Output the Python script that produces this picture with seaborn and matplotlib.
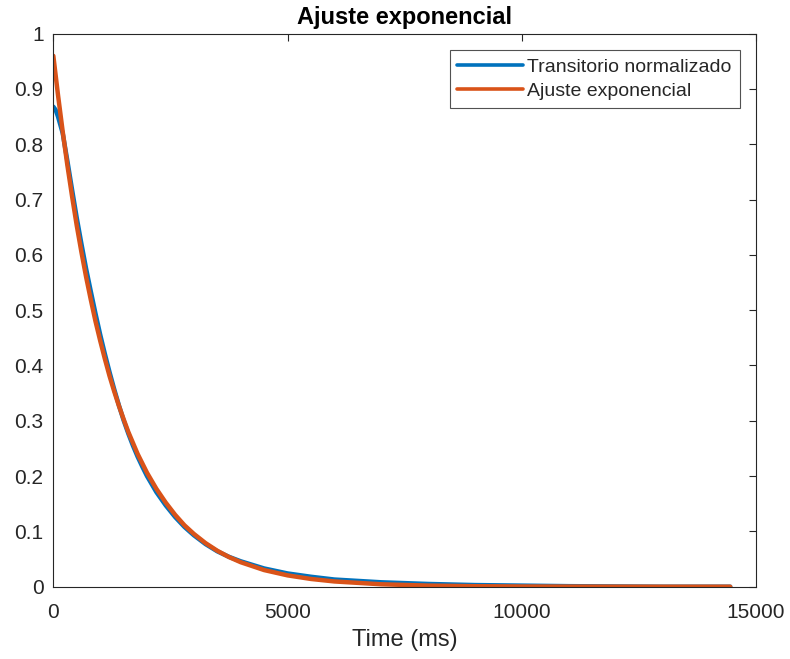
import numpy as np
import pandas as pd
import matplotlib
matplotlib.use("Agg")
import matplotlib.pyplot as plt
import seaborn as sns

# Data
time_blue = [0, 50, 100, 200, 300, 400, 500, 600, 700, 800, 900, 1000, 1100,
             1200, 1300, 1400, 1500, 1600, 1700, 1800, 1900, 2000, 2200, 2400,
             2600, 2800, 3000, 3250, 3500, 3750, 4000, 4500, 5000, 5500, 6000,
             7000, 8000, 9000, 10000, 11000, 12000, 13000, 14450]
transitorio = [0.868, 0.862, 0.850, 0.820, 0.770, 0.718, 0.667, 0.620, 0.575,
               0.534, 0.494, 0.456, 0.421, 0.388, 0.357, 0.328, 0.301, 0.277,
               0.255, 0.235, 0.217, 0.200, 0.171, 0.147, 0.126, 0.108, 0.093,
               0.077, 0.064, 0.054, 0.046, 0.033, 0.024, 0.018, 0.013, 0.008,
               0.005, 0.003, 0.002, 0.001, 0.0005, 0.0, 0.0]

time_orange = [0, 100, 200, 300, 400, 500, 600, 700, 800, 900, 1000, 1100,
               1200, 1300, 1400, 1500, 1600, 1700, 1800, 1900, 2000, 2200,
               2400, 2600, 2800, 3000, 3250, 3500, 3750, 4000, 4500, 5000,
               5500, 6000, 7000, 8000, 9000, 10000, 11000, 12000, 13000, 14450]
ajuste = [0.960, 0.889, 0.823, 0.762, 0.706, 0.653, 0.605, 0.560, 0.519,
          0.480, 0.445, 0.412, 0.381, 0.353, 0.327, 0.303, 0.280, 0.260,
          0.240, 0.223, 0.206, 0.177, 0.152, 0.130, 0.111, 0.0955, 0.0788,
          0.0650, 0.0536, 0.0443, 0.0301, 0.0205, 0.0140, 0.0095, 0.0044,
          0.0020, 0.0009, 0.0004, 0.0002, 0.0001, 0.0, 0.0]

series_names = ["Transitorio normalizado", "Ajuste exponencial"]
xticks = [0, 5000, 10000, 15000]
yticks = [0, 0.1, 0.2, 0.3, 0.4, 0.5, 0.6, 0.7, 0.8, 0.9, 1]
ytick_labels = ["0", "0.1", "0.2", "0.3", "0.4", "0.5", "0.6", "0.7", "0.8", "0.9", "1"]

df = pd.concat([
    pd.DataFrame({"t": time_blue, "v": transitorio, "serie": series_names[0]}),
    pd.DataFrame({"t": time_orange, "v": ajuste, "serie": series_names[1]}),
], ignore_index=True)

sns.set_style("white")
plt.rcParams["font.family"] = ["Liberation Sans", "DejaVu Sans"]

fig = plt.figure(figsize=(7.9, 6.59), dpi=100)
ax = fig.add_axes([0.0675, 0.1097, 0.8895, 0.8392])

palette = {series_names[0]: "#0072BD", series_names[1]: "#D95319"}
sns.lineplot(data=df, x="t", y="v", hue="serie", palette=palette,
             linewidth=3.2, ax=ax, sort=False, estimator=None)

ax.set_xlim(0, 15000)
ax.set_ylim(0, 1)
ax.set_xticks(xticks)
ax.set_xticklabels([str(x) for x in xticks])
ax.set_yticks(yticks)
ax.set_yticklabels(ytick_labels)

axis_col = "#262626"
for s in ax.spines.values():
    s.set_visible(True)
    s.set_color(axis_col)
    s.set_linewidth(0.8)
ax.tick_params(axis="both", direction="in", length=5, width=0.8,
               colors=axis_col, labelsize=15, top=True, right=True,
               labelcolor=axis_col)
ax.tick_params(axis="x", pad=11.5)
ax.tick_params(axis="y", pad=7)

ax.set_xlabel("Time (ms)", fontsize=17, color=axis_col, labelpad=5.5)
ax.set_ylabel("")
ax.set_title("Ajuste exponencial", fontsize=17, fontweight="bold", color="black", pad=7)

leg = ax.legend(loc="upper right", fontsize=14, frameon=True, fancybox=False,
                borderaxespad=0.85, handlelength=3.4, handletextpad=0.2,
                borderpad=0.4, labelspacing=0.35)
leg.get_frame().set_edgecolor(axis_col)
leg.get_frame().set_linewidth(0.8)
for line in leg.get_lines():
    line.set_linewidth(2.6)

fig.savefig("out.png", dpi=100)
